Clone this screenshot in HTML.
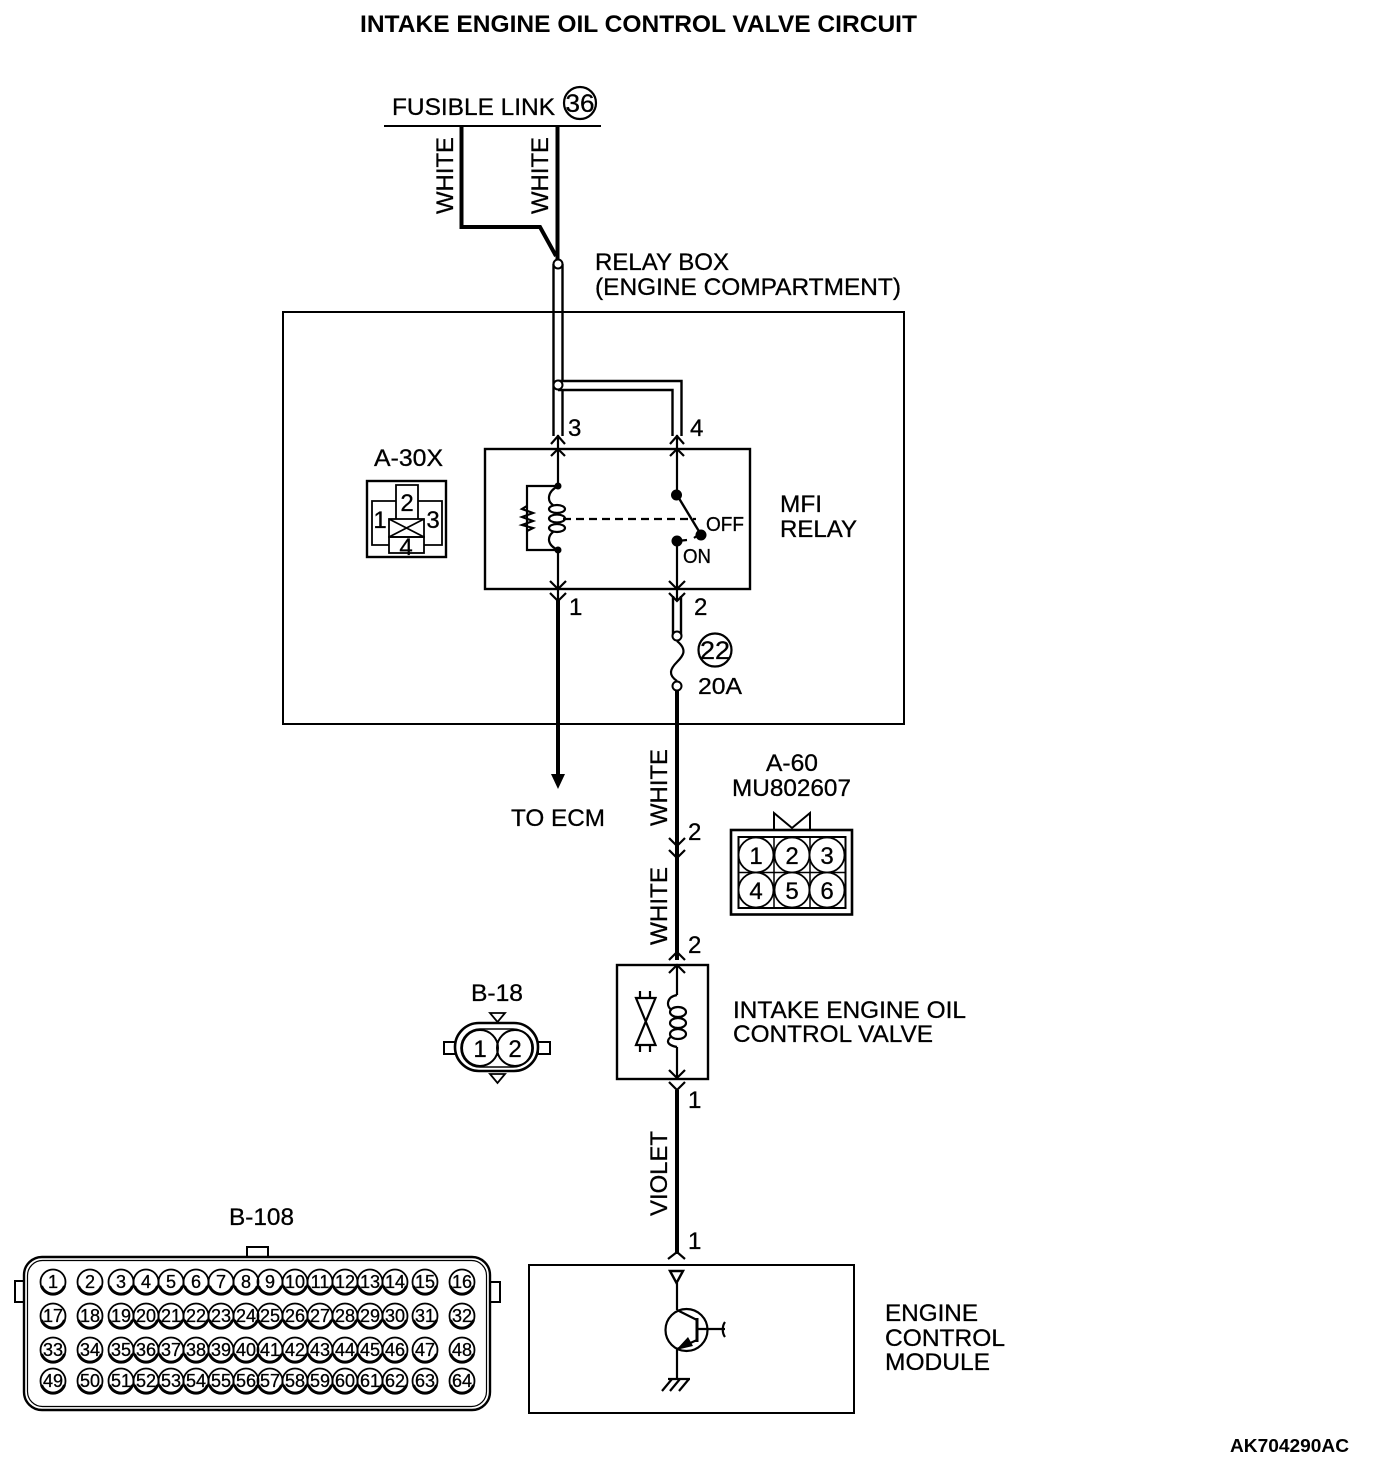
<!DOCTYPE html>
<html>
<head>
<meta charset="utf-8">
<style>
html,body{margin:0;padding:0;background:#fff;width:1376px;height:1460px;overflow:hidden}
svg{display:block}
text{font-family:"Liberation Sans",sans-serif;fill:#000;font-size:24px;stroke:#000;stroke-width:.3}
.n text{font-size:18px;text-anchor:middle}
</style>
</head>
<body>
<svg width="1376" height="1460" viewBox="0 0 1376 1460" xmlns="http://www.w3.org/2000/svg">
<defs>
<g id="c"><circle r="12.5" fill="none" stroke="#000" stroke-width="1.8"/><path d="M-11.5 4 A12.2 12.2 0 0 0 11.5 4" fill="none" stroke="#000" stroke-width="3"/></g>
</defs>
<rect width="1376" height="1460" fill="#fff"/>

<!-- Text labels -->
<text x="360" y="32" textLength="557" lengthAdjust="spacingAndGlyphs" style="font-weight:bold;stroke:none">INTAKE ENGINE OIL CONTROL VALVE CIRCUIT</text>
<text x="392" y="115" textLength="163" lengthAdjust="spacingAndGlyphs">FUSIBLE LINK</text>
<text x="595" y="270" textLength="134" lengthAdjust="spacingAndGlyphs">RELAY BOX</text>
<text x="595" y="295" textLength="306" lengthAdjust="spacingAndGlyphs">(ENGINE COMPARTMENT)</text>
<text x="374" y="466" textLength="69" lengthAdjust="spacingAndGlyphs">A-30X</text>
<text x="780" y="512" textLength="42" lengthAdjust="spacingAndGlyphs">MFI</text>
<text x="780" y="537" textLength="77" lengthAdjust="spacingAndGlyphs">RELAY</text>
<text x="706" y="531" textLength="38" lengthAdjust="spacingAndGlyphs" style="font-size:20px">OFF</text>
<text x="683" y="563" textLength="28" lengthAdjust="spacingAndGlyphs" style="font-size:20px">ON</text>
<text x="511" y="826" textLength="94" lengthAdjust="spacingAndGlyphs">TO ECM</text>
<text x="698" y="694" textLength="44" lengthAdjust="spacingAndGlyphs" style="font-size:23px">20A</text>
<text x="766" y="771" textLength="52" lengthAdjust="spacingAndGlyphs">A-60</text>
<text x="732" y="796" textLength="119" lengthAdjust="spacingAndGlyphs">MU802607</text>
<text x="471" y="1001" textLength="52" lengthAdjust="spacingAndGlyphs">B-18</text>
<text x="229" y="1225" textLength="65" lengthAdjust="spacingAndGlyphs">B-108</text>
<text x="733" y="1018" textLength="233" lengthAdjust="spacingAndGlyphs">INTAKE ENGINE OIL</text>
<text x="733" y="1042" textLength="200" lengthAdjust="spacingAndGlyphs">CONTROL VALVE</text>
<text x="885" y="1321" textLength="93" lengthAdjust="spacingAndGlyphs">ENGINE</text>
<text x="885" y="1346" textLength="120" lengthAdjust="spacingAndGlyphs">CONTROL</text>
<text x="885" y="1370" textLength="105" lengthAdjust="spacingAndGlyphs">MODULE</text>
<text x="1230" y="1452" textLength="119" lengthAdjust="spacingAndGlyphs" style="font-size:18px;font-weight:bold;stroke:none">AK704290AC</text>

<text transform="translate(453,214) rotate(-90)" textLength="77" lengthAdjust="spacingAndGlyphs">WHITE</text>
<text transform="translate(548,214) rotate(-90)" textLength="77" lengthAdjust="spacingAndGlyphs">WHITE</text>
<text transform="translate(667,826) rotate(-90)" textLength="77" lengthAdjust="spacingAndGlyphs">WHITE</text>
<text transform="translate(667,945) rotate(-90)" textLength="78" lengthAdjust="spacingAndGlyphs">WHITE</text>
<text transform="translate(667,1216) rotate(-90)" textLength="85" lengthAdjust="spacingAndGlyphs">VIOLET</text>

<text x="568" y="436" style="font-size:24px">3</text>
<text x="690" y="436" style="font-size:24px">4</text>
<text x="569" y="615" style="font-size:24px">1</text>
<text x="694" y="615" style="font-size:24px">2</text>
<text x="688" y="840" style="font-size:24px">2</text>
<text x="688" y="953" style="font-size:24px">2</text>
<text x="688" y="1108" style="font-size:24px">1</text>
<text x="688" y="1249" style="font-size:24px">1</text>

<!-- Fusible link -->
<path d="M384 126H601" stroke="#000" stroke-width="2" fill="none"/>
<circle cx="580" cy="103" r="16" fill="none" stroke="#000" stroke-width="2.2"/>
<text x="580" y="112" text-anchor="middle" textLength="29" lengthAdjust="spacingAndGlyphs" style="font-size:25px">36</text>
<path d="M461.5 126V227H540L556 256M557.5 126V260" fill="none" stroke="#000" stroke-width="4"/>

<!-- Boxes -->
<g fill="none" stroke="#000">
<rect x="283" y="312" width="621" height="412" stroke-width="2"/>
<rect x="485" y="449" width="265" height="140" stroke-width="2.4"/>
<rect x="617" y="965" width="91" height="114" stroke-width="2.4"/>
<rect x="529" y="1265" width="325" height="148" stroke-width="2"/>
</g>

<!-- Double wires -->
<g fill="none" stroke="#000" stroke-width="2.4">
<path d="M553.5 264V436M562.5 264V381"/>
<path d="M562.5 390V436"/>
<path d="M558 381H681.5V436M558 390H672.5V436"/>
<path d="M673 596V636M681 596V636"/>
</g>
<g fill="#fff" stroke="#000" stroke-width="2">
<circle cx="558" cy="264" r="4.5"/>
<circle cx="558" cy="385" r="4.5"/>
<circle cx="677" cy="636" r="4.5"/>
<circle cx="677" cy="686" r="4.5"/>
</g>

<!-- Thin wires in relay -->
<g fill="none" stroke="#000" stroke-width="2.2">
<path d="M558 435V486M558 550V600"/>
<path d="M677 435V495M677 541V600"/>
<path d="M558 486H527V550H558"/>
<!-- resistor -->
<path d="M527 506L522 509L533 513L522 517L533 521L522 525L533 528L527 531"/>
<!-- coil -->
<path d="M558 486C547 492 547 501 553 505M553 532C547 537 547 545 558 550"/>
<ellipse cx="557" cy="509" rx="8" ry="4"/>
<ellipse cx="557" cy="518.5" rx="8" ry="4"/>
<ellipse cx="557" cy="528" rx="8" ry="4"/>
<path d="M563 519H696" stroke-dasharray="8 5"/>
<path d="M677 495L700 533" stroke-width="2.4"/>
<path d="M677 541L687 540"/>
<path d="M694 538L702 532"/>
<!-- fuse -->
<path d="M677 641C688 650 683 656 677 662C670 669 668 675 677 681"/>
<path d="M677 690V694" />
</g>
<g fill="#000">
<circle cx="558" cy="486" r="3.5"/>
<circle cx="558" cy="550" r="3.5"/>
<circle cx="676.5" cy="495" r="5.5"/>
<circle cx="701" cy="535" r="5.5"/>
<circle cx="677" cy="541" r="5.5"/>
</g>

<!-- Chevrons -->
<g fill="none" stroke="#000" stroke-width="2.2">
<path d="M551 444L558 436L565 444M551 456L558 449L565 456"/>
<path d="M670 444L677 436L684 444M670 456L677 449L684 456"/>
<path d="M550 581L558 589L566 581M550 593L558 601L566 593"/>
<path d="M669 581L677 589L685 581M669 593L677 601L685 593"/>
<path d="M669 838L677 846L685 838M669 850L677 858L685 850"/>
<path d="M669 960L677 952L685 960M669 973L677 965L685 973"/>
<path d="M669 1070L677 1078L685 1070M669 1082L677 1090L685 1082"/>
<path d="M668 1259L677 1252L685 1259"/>
</g>

<!-- Thick wires -->
<path d="M558 600V776M677 690V960M677 1090V1254" fill="none" stroke="#000" stroke-width="4"/>
<path d="M551 774H565L558 789Z" fill="#000"/>

<!-- Fuse 22 -->
<circle cx="715" cy="650" r="16.5" fill="none" stroke="#000" stroke-width="2.2"/>
<text x="715" y="659" text-anchor="middle" textLength="30" lengthAdjust="spacingAndGlyphs" style="font-size:25px">22</text>

<!-- A-30X connector -->
<g fill="none" stroke="#000" stroke-width="1.8">
<rect x="367" y="481" width="79" height="76" stroke-width="2.4"/>
<path d="M396 501H372V545H389M418 501H442V545H424"/>
<path d="M396 519V485H418V519"/>
<rect x="389" y="519" width="35" height="18"/>
<rect x="389" y="537" width="35" height="16"/>
<path d="M389 519L424 537M424 519L389 537"/>
</g>
<text x="407" y="511" text-anchor="middle">2</text>
<text x="380" y="528" text-anchor="middle">1</text>
<text x="433" y="528" text-anchor="middle">3</text>
<text x="406" y="555" text-anchor="middle">4</text>

<!-- A-60 connector -->
<g fill="none" stroke="#000">
<rect x="731" y="830" width="121" height="84.500" stroke-width="2.6"/>
<rect x="738.500" y="837" width="107" height="71" stroke-width="2"/>
<path d="M774 837V908M810 837V908M738.500 872.500H845.500" stroke-width="1.5"/>
<path d="M774 830V813L792 828L810 813V830" stroke-width="2"/>
<g fill="#fff" stroke-width="1.8">
<circle cx="756" cy="855" r="17.500"/><circle cx="792" cy="855" r="17.500"/><circle cx="827" cy="855" r="17.500"/>
<circle cx="756" cy="890" r="17.500"/><circle cx="792" cy="890" r="17.500"/><circle cx="827" cy="890" r="17.500"/>
</g>
</g>
<g style="text-anchor:middle">
<text x="756" y="864" text-anchor="middle">1</text><text x="792" y="864" text-anchor="middle">2</text><text x="827" y="864" text-anchor="middle">3</text>
<text x="756" y="899" text-anchor="middle">4</text><text x="792" y="899" text-anchor="middle">5</text><text x="827" y="899" text-anchor="middle">6</text>
</g>

<!-- Valve -->
<g fill="none" stroke="#000" stroke-width="2.2">
<path d="M677 965V995M677 1047V1080"/>
<path d="M677 995C666 997 666 1007 672 1010M672 1036C666 1040 666 1045 677 1047"/>
<ellipse cx="678" cy="1012" rx="8" ry="5"/>
<ellipse cx="678" cy="1023" rx="8" ry="5"/>
<ellipse cx="678" cy="1034" rx="8" ry="5"/>
<path d="M636 998H655.500L636 1045H655.500ZM640 991V998M650 991V998M640 1045V1052M650 1045V1052"/>
</g>

<!-- B-18 connector -->
<g fill="none" stroke="#000">
<path d="M490 1013H505L497.500 1022Z" stroke-width="1.8"/>
<path d="M490 1074H505L497.500 1083Z" stroke-width="1.8"/>
<rect x="444" y="1042" width="12" height="12" stroke-width="2"/>
<rect x="538" y="1042" width="12" height="12" stroke-width="2"/>
<rect x="455" y="1023" width="83" height="48" rx="24" fill="#fff" stroke-width="2.6"/>
<rect x="461" y="1029" width="71" height="38" rx="19" stroke-width="1.6"/>
<circle cx="480" cy="1048" r="18" stroke-width="2"/>
<circle cx="515" cy="1048" r="18" stroke-width="2"/>
</g>
<text x="480" y="1057" text-anchor="middle">1</text>
<text x="515" y="1057" text-anchor="middle">2</text>

<!-- ECM symbol -->
<g fill="none" stroke="#000" stroke-width="2.2">
<path d="M670 1271H683L676.500 1283Z" stroke-width="2.4"/>
<path d="M677 1283V1310M677 1310L697 1320M697 1340L677 1349M677 1349V1379"/>
<path d="M697 1318V1342" stroke-width="3"/>
<path d="M697 1329H725M725 1322C722 1326 722 1333 725 1337"/>
<circle cx="686.500" cy="1330" r="21"/>
<path d="M668 1379H690M672 1379L662 1391M680 1379L670 1391M689 1379L679 1391"/>
</g>
<path d="M676 1350L688 1337L693 1346Z" fill="#000"/>

<!-- B-108 connector -->
<g fill="none" stroke="#000">
<path d="M247 1257V1247H268V1257" stroke-width="2"/>
<rect x="15" y="1281" width="10" height="21" stroke-width="2"/>
<rect x="490" y="1282" width="10" height="20" stroke-width="2"/>
<rect x="24" y="1257" width="466" height="153" rx="18" fill="#fff" stroke-width="2.4"/>
<rect x="27.500" y="1260.500" width="459" height="146" rx="15" stroke-width="1.2"/>
</g>
<g class="n">
<use href="#c" x="53" y="1282"/><text x="53" y="1288">1</text>
<use href="#c" x="90" y="1282"/><text x="90" y="1288">2</text>
<use href="#c" x="121" y="1282"/><text x="121" y="1288">3</text>
<use href="#c" x="146" y="1282"/><text x="146" y="1288">4</text>
<use href="#c" x="171" y="1282"/><text x="171" y="1288">5</text>
<use href="#c" x="196" y="1282"/><text x="196" y="1288">6</text>
<use href="#c" x="221" y="1282"/><text x="221" y="1288">7</text>
<use href="#c" x="246" y="1282"/><text x="246" y="1288">8</text>
<use href="#c" x="270" y="1282"/><text x="270" y="1288">9</text>
<use href="#c" x="295" y="1282"/><text x="295" y="1288">10</text>
<use href="#c" x="320" y="1282"/><text x="320" y="1288">11</text>
<use href="#c" x="345" y="1282"/><text x="345" y="1288">12</text>
<use href="#c" x="370" y="1282"/><text x="370" y="1288">13</text>
<use href="#c" x="395" y="1282"/><text x="395" y="1288">14</text>
<use href="#c" x="425" y="1282"/><text x="425" y="1288">15</text>
<use href="#c" x="462" y="1282"/><text x="462" y="1288">16</text>

<use href="#c" x="53" y="1316"/><text x="53" y="1322">17</text>
<use href="#c" x="90" y="1316"/><text x="90" y="1322">18</text>
<use href="#c" x="121" y="1316"/><text x="121" y="1322">19</text>
<use href="#c" x="146" y="1316"/><text x="146" y="1322">20</text>
<use href="#c" x="171" y="1316"/><text x="171" y="1322">21</text>
<use href="#c" x="196" y="1316"/><text x="196" y="1322">22</text>
<use href="#c" x="221" y="1316"/><text x="221" y="1322">23</text>
<use href="#c" x="246" y="1316"/><text x="246" y="1322">24</text>
<use href="#c" x="270" y="1316"/><text x="270" y="1322">25</text>
<use href="#c" x="295" y="1316"/><text x="295" y="1322">26</text>
<use href="#c" x="320" y="1316"/><text x="320" y="1322">27</text>
<use href="#c" x="345" y="1316"/><text x="345" y="1322">28</text>
<use href="#c" x="370" y="1316"/><text x="370" y="1322">29</text>
<use href="#c" x="395" y="1316"/><text x="395" y="1322">30</text>
<use href="#c" x="425" y="1316"/><text x="425" y="1322">31</text>
<use href="#c" x="462" y="1316"/><text x="462" y="1322">32</text>

<use href="#c" x="53" y="1350"/><text x="53" y="1356">33</text>
<use href="#c" x="90" y="1350"/><text x="90" y="1356">34</text>
<use href="#c" x="121" y="1350"/><text x="121" y="1356">35</text>
<use href="#c" x="146" y="1350"/><text x="146" y="1356">36</text>
<use href="#c" x="171" y="1350"/><text x="171" y="1356">37</text>
<use href="#c" x="196" y="1350"/><text x="196" y="1356">38</text>
<use href="#c" x="221" y="1350"/><text x="221" y="1356">39</text>
<use href="#c" x="246" y="1350"/><text x="246" y="1356">40</text>
<use href="#c" x="270" y="1350"/><text x="270" y="1356">41</text>
<use href="#c" x="295" y="1350"/><text x="295" y="1356">42</text>
<use href="#c" x="320" y="1350"/><text x="320" y="1356">43</text>
<use href="#c" x="345" y="1350"/><text x="345" y="1356">44</text>
<use href="#c" x="370" y="1350"/><text x="370" y="1356">45</text>
<use href="#c" x="395" y="1350"/><text x="395" y="1356">46</text>
<use href="#c" x="425" y="1350"/><text x="425" y="1356">47</text>
<use href="#c" x="462" y="1350"/><text x="462" y="1356">48</text>

<use href="#c" x="53" y="1381"/><text x="53" y="1387">49</text>
<use href="#c" x="90" y="1381"/><text x="90" y="1387">50</text>
<use href="#c" x="121" y="1381"/><text x="121" y="1387">51</text>
<use href="#c" x="146" y="1381"/><text x="146" y="1387">52</text>
<use href="#c" x="171" y="1381"/><text x="171" y="1387">53</text>
<use href="#c" x="196" y="1381"/><text x="196" y="1387">54</text>
<use href="#c" x="221" y="1381"/><text x="221" y="1387">55</text>
<use href="#c" x="246" y="1381"/><text x="246" y="1387">56</text>
<use href="#c" x="270" y="1381"/><text x="270" y="1387">57</text>
<use href="#c" x="295" y="1381"/><text x="295" y="1387">58</text>
<use href="#c" x="320" y="1381"/><text x="320" y="1387">59</text>
<use href="#c" x="345" y="1381"/><text x="345" y="1387">60</text>
<use href="#c" x="370" y="1381"/><text x="370" y="1387">61</text>
<use href="#c" x="395" y="1381"/><text x="395" y="1387">62</text>
<use href="#c" x="425" y="1381"/><text x="425" y="1387">63</text>
<use href="#c" x="462" y="1381"/><text x="462" y="1387">64</text>
</g>
</svg>
</body>
</html>
